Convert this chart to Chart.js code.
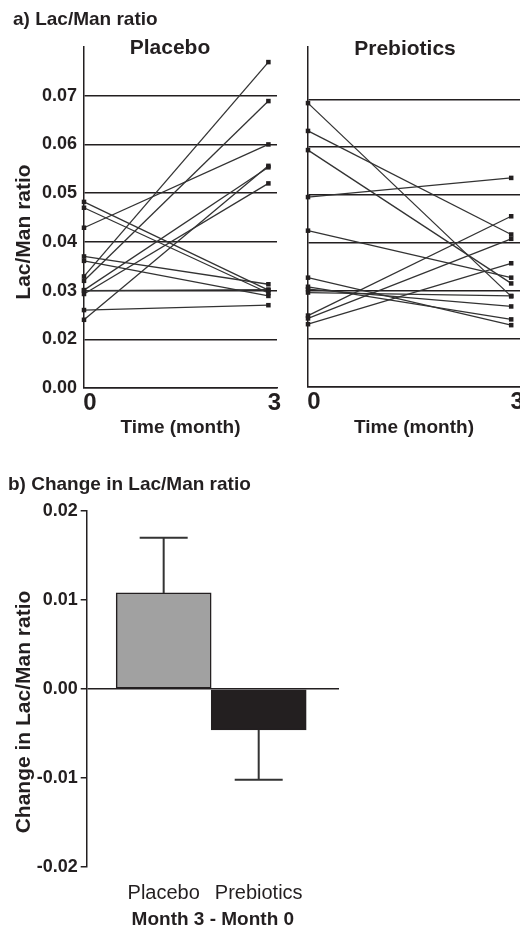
<!DOCTYPE html>
<html>
<head>
<meta charset="utf-8">
<script src="https://cdn.jsdelivr.net/npm/chart.js@4.4.1/dist/chart.umd.min.js"></script>
<style>
body{margin:0;background:#fff;font-family:"Liberation Sans",Arial,sans-serif;}
#wrap{position:relative;width:520px;height:933px;overflow:hidden;}
canvas{position:absolute;}
.lbl{position:absolute;font-weight:bold;color:#231f20;line-height:1;white-space:nowrap;}
.ytitle{transform:translate(-50%,-50%) rotate(-90deg);}
</style>
</head>
<body>
<div id="wrap">
<canvas id="placeboChart" width="282" height="440" style="left:0;top:0"></canvas>
<canvas id="prebioticsChart" width="250" height="440" style="left:282px;top:0"></canvas>
<canvas id="changeChart" width="520" height="443" style="left:0;top:490px"></canvas>
<div class="lbl" style="left:13px;top:9px;font-size:19px">a) Lac/Man ratio</div>
<div class="lbl" style="left:100px;width:140px;text-align:center;top:36px;font-size:21px">Placebo</div>
<div class="lbl" style="left:335px;width:140px;text-align:center;top:37px;font-size:21px">Prebiotics</div>
<div class="lbl ytitle" style="left:22px;top:232px;font-size:21px">Lac/Man ratio</div>
<div class="lbl" style="left:8px;top:474px;font-size:19px">b) Change in Lac/Man ratio</div>
<div class="lbl ytitle" style="left:22px;top:712px;font-size:21px">Change in Lac/Man ratio</div>
</div>
<script>
// time points (x axis)
const monthTicks=[0,3];

// y axis of panel a) is broken: the lowest tick is labelled 0.00
const ratioTicks=[0.01,0.02,0.03,0.04,0.05,0.06,0.07];
const ratioTickText=["0.00","0.02","0.03","0.04","0.05","0.06","0.07"];

// Lac/Man ratio per subject, month 0 and month 3
const placeboMonth0=[0.0482,0.0470,0.0429,0.0370,0.0361,0.0329,0.0320,0.0301,0.0293,0.0300,0.0260,0.0240];
const placeboMonth3=[0.0301,0.0295,0.0600,0.0313,0.0289,0.0769,0.0689,0.0553,0.0520,0.0302,0.0270,0.0556];
const prebioticsMonth0=[0.0692,0.0634,0.0594,0.0496,0.0426,0.0328,0.0309,0.0304,0.0297,0.0249,0.0243,0.0231];
const prebioticsMonth3=[0.0289,0.0418,0.0316,0.0536,0.0328,0.0229,0.0241,0.0268,0.0290,0.0456,0.0409,0.0358];

// panel b)
const groups=["Placebo","Prebiotics"];
const changeMean=[0.0108,-0.0046];
const changeErr=[0.0062,0.0056];
const changeTicks=[-0.02,-0.01,0,0.01,0.02];
const changeTickText=["-0.02","-0.01","0.00","0.01","0.02"];

const ink="#231f20";
Chart.defaults.font.family='"Liberation Sans", Arial, sans-serif';
Chart.defaults.color=ink;

function lineChart(id,m0,m3,o){
    const datasets=m0.map((v,i)=>({
        data:[{x:monthTicks[0],y:v},{x:monthTicks[1],y:m3[i]}],
        borderColor:"#333",
        borderWidth:1.3,
        pointStyle:"rect",
        pointRadius:3.2,
        pointBackgroundColor:ink,
        pointBorderWidth:0,
        clip:false
    }));
    return new Chart(document.getElementById(id),{
        type:"line",
        data:{datasets},
        options:{
            responsive:false,
            animation:false,
            layout:{padding:{top:o.top,right:o.right,left:0,bottom:0}},
            plugins:{legend:{display:false},tooltip:{enabled:false}},
            scales:{
                x:{
                    type:"linear",min:0,max:o.xMax,
                    afterBuildTicks:s=>{s.ticks=monthTicks.map(v=>({value:v}));},
                    afterFit:s=>{s.height=o.xH;},
                    grid:{display:false,drawTicks:false},
                    border:{color:ink,width:1.5},
                    ticks:{padding:1,labelOffset:6,font:{size:24,weight:"bold"},color:ink,callback:(v,i)=>String(monthTicks[i])},
                    title:{display:true,text:"Time (month)",font:{size:19,weight:"bold"},color:ink,padding:{top:0,bottom:1}}
                },
                y:{
                    min:0.01,max:o.yMax,
                    afterBuildTicks:s=>{s.ticks=ratioTicks.map(v=>({value:v}));},
                    afterFit:s=>{s.width=o.yW;},
                    grid:{color:ink,lineWidth:1.5,drawTicks:false},
                    border:{color:ink,width:1.5},
                    ticks:{display:o.showY,padding:7,font:{size:18,weight:"bold"},color:ink,callback:(v,i)=>ratioTickText[i]}
                }
            }
        }
    });
}

lineChart("placeboChart",placeboMonth0,placeboMonth3,{top:47,right:5,xMax:3.14,yMax:0.08,xH:52,yW:84,showY:true});
lineChart("prebioticsChart",prebioticsMonth0,prebioticsMonth3,{top:47,right:12,xMax:3.13,yMax:0.0809,xH:53,yW:26,showY:false});

// error bars for panel b), drawn away from zero
const errorBars={
    id:"errorBars",
    afterDatasetsDraw(chart){
        const ctx=chart.ctx, y=chart.scales.y;
        const meta=chart.getDatasetMeta(0);
        ctx.save();
        ctx.strokeStyle="#333";
        ctx.lineWidth=2;
        meta.data.forEach((bar,i)=>{
            const m=changeMean[i], e=changeErr[i];
            const tip=m>=0?m+e:m-e;
            const y0=y.getPixelForValue(m), y1=y.getPixelForValue(tip);
            ctx.beginPath();
            ctx.moveTo(bar.x,y0);ctx.lineTo(bar.x,y1);
            ctx.moveTo(bar.x-24,y1);ctx.lineTo(bar.x+24,y1);
            ctx.stroke();
        });
        ctx.restore();
    }
};

new Chart(document.getElementById("changeChart"),{
    type:"bar",
    data:{datasets:[{
        data:groups.map((g,i)=>({x:i+1,y:changeMean[i]})),
        backgroundColor:["#a1a1a1",ink],
        borderColor:ink,
        borderWidth:1.5,
        borderSkipped:false,
        categoryPercentage:1,
        barPercentage:1
    }]},
    options:{
        responsive:false,
        animation:false,
        layout:{padding:{top:21,right:181,left:0,bottom:0}},
        plugins:{legend:{display:false},tooltip:{enabled:false}},
        scales:{
            x:{
                type:"linear",min:0.19,max:2.845,offset:false,
                afterBuildTicks:s=>{s.ticks=groups.map((g,i)=>({value:i+1}));},
                afterFit:s=>{s.height=66;},
                grid:{display:false,drawTicks:false,offset:false},
                border:{display:false},
                ticks:{padding:14,font:{size:20},color:ink,callback:(v,i)=>groups[i]},
                title:{display:true,text:"Month 3 - Month 0",font:{size:19,weight:"bold"},color:ink,padding:{top:0,bottom:1.6}}
            },
            y:{
                min:-0.02,max:0.02,
                afterBuildTicks:s=>{s.ticks=changeTicks.map(v=>({value:v}));},
                afterFit:s=>{s.width=86.7;},
                grid:{color:c=>c.tick&&c.tick.value===0?ink:"rgba(0,0,0,0)",lineWidth:1.5,tickLength:6,tickColor:ink,tickWidth:1.5},
                border:{color:ink,width:1.5},
                ticks:{padding:3,font:{size:18,weight:"bold"},color:ink,callback:(v,i)=>changeTickText[i]}
            }
        }
    },
    plugins:[errorBars]
});
</script>
</body>
</html>
